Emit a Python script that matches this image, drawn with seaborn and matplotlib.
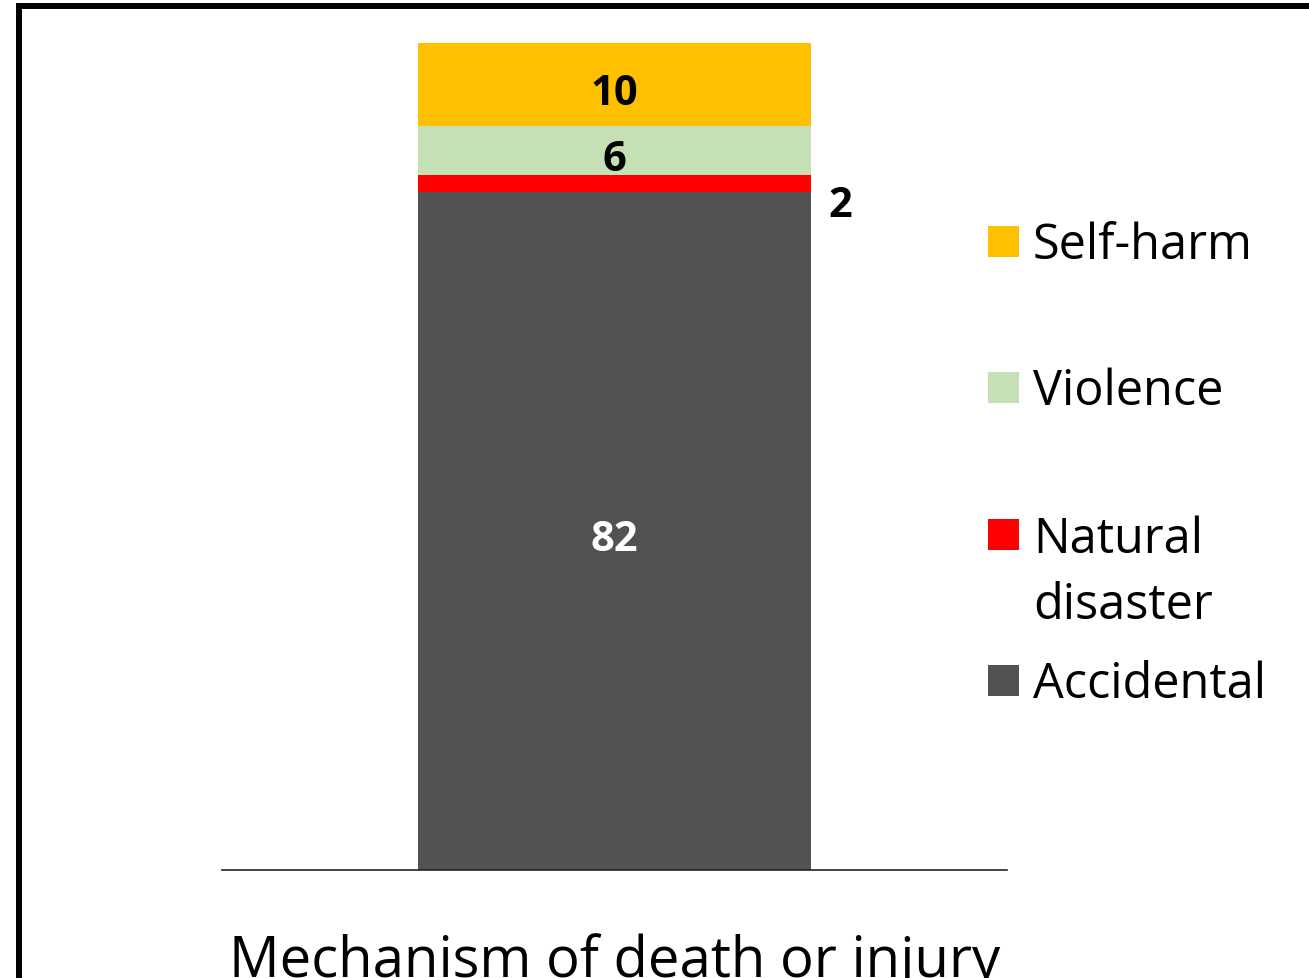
import seaborn as sns
import matplotlib.pyplot as plt
import matplotlib.patches as mpatches
import pandas as pd

# data (percent of deaths/injuries by mechanism)
category = 'Mechanism of death or injury'
mechanisms = ['Accidental', 'Natural disaster', 'Violence', 'Self-harm']
legend_labels = ['Accidental', 'Natural\ndisaster', 'Violence', 'Self-harm']
values = [82, 2, 6, 10]
colors = ['#525252', '#FF0000', '#C5E0B4', '#FFC000']
label_colors = ['white', 'black', 'black', 'black']

df = pd.DataFrame({'mechanism': mechanisms, 'value': values, 'color': colors})
df['top'] = df['value'].cumsum()
df['bottom'] = df['top'] - df['value']
df['x'] = category

sns.set_style('white')
plt.rcParams['font.family'] = ['Open Sans', 'DejaVu Sans']
plt.rcParams['text.color'] = 'black'
plt.rcParams['xtick.color'] = 'black'

fig = plt.figure(figsize=(13.09, 9.79), dpi=100)
ax = fig.add_axes([222 / 1309, 108 / 979, 785 / 1309, 827 / 979])

# stacked bar: draw cumulative totals from the top layer down
for i in reversed(range(len(df))):
    row = df.iloc[i]
    sns.barplot(data=df.iloc[[i]], x='x', y='top', color=row['color'],
                saturation=1, width=0.5, ax=ax, linewidth=0)

ax.set_xlim(-0.5, 0.5)
ax.set_ylim(0, df['top'].max())

# value labels
for i, row in df.iterrows():
    mid = row['bottom'] + row['value'] / 2
    if row['value'] < 4:
        # too thin, put it beside the bar
        ax.annotate(str(row['value']), xy=(0.25, mid), xytext=(21, -23),
                    textcoords='offset points', ha='center', va='baseline',
                    fontsize=30, fontweight='bold', color='black')
    else:
        ax.annotate(str(row['value']), xy=(0, mid), xytext=(0, -14),
                    textcoords='offset points', ha='center', va='baseline',
                    fontsize=30, fontweight='bold', color=label_colors[i])

# axes cosmetics
for s in ['top', 'right', 'left']:
    ax.spines[s].set_visible(False)
ax.spines['bottom'].set_color('#222222')
ax.spines['bottom'].set_linewidth(1.2)
ax.set_yticks([])
ax.set_xlabel('')
ax.set_ylabel('')
ax.tick_params(axis='x', length=0, pad=45, labelsize=40.5)

# legend drawn by hand, top entry first
leg_y = [242, 388, 535, 681]
line_gap = 67
for j, i in enumerate(reversed(range(len(df)))):
    yc = leg_y[j]
    fig.add_artist(mpatches.Rectangle((988 / 1309, 1 - (yc + 15.5) / 979),
                                      31 / 1309, 31 / 979,
                                      transform=fig.transFigure,
                                      facecolor=colors[i], edgecolor='none'))
    nlines = legend_labels[i].count('\n')
    fig.text(1033 / 1309, 1 - (yc + 17 + nlines * line_gap) / 979, legend_labels[i],
             ha='left', va='baseline', fontsize=35, linespacing=1.45)

# outer frame
fig.add_artist(mpatches.Rectangle((19 / 1309, -0.1), (1291 / 1309), 1.1 - 7 / 979,
                                  transform=fig.transFigure, fill=False,
                                  edgecolor='black', linewidth=4.3))

fig.savefig('out.png', dpi=100)
